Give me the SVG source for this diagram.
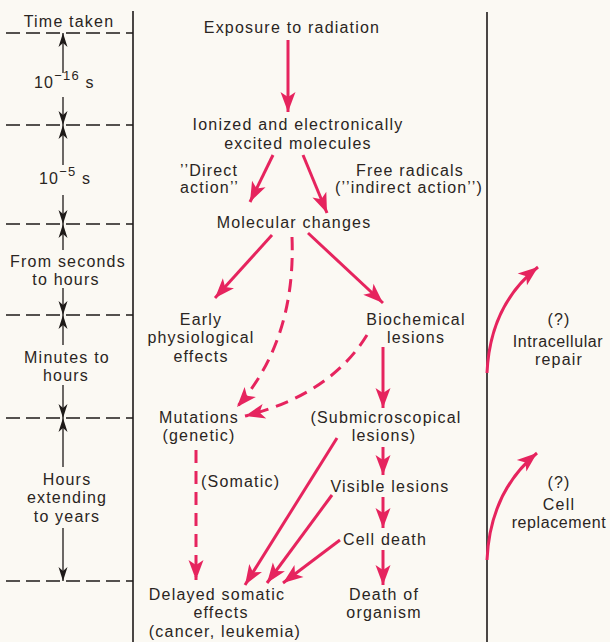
<svg xmlns="http://www.w3.org/2000/svg" width="610" height="642" viewBox="0 0 610 642">
<defs>
<marker id="rh" markerUnits="userSpaceOnUse" orient="auto" overflow="visible" markerWidth="1" markerHeight="1" refX="0" refY="0">
<path d="M0,0 L-20,-7.5 L-15,0 L-20,7.5 Z" fill="#e6245e"/>
</marker>
<marker id="bh" markerUnits="userSpaceOnUse" orient="auto" overflow="visible" markerWidth="1" markerHeight="1" refX="0" refY="0">
<path d="M0,0 L-14,-4.5 L-10,0 L-14,4.5 Z" fill="#1e1a18"/>
</marker>
</defs>
<style>
text{font-family:"Liberation Sans",Arial,sans-serif;font-size:16px;fill:#2a2522;letter-spacing:1.2px}
.m{text-anchor:middle}
.n{letter-spacing:0.6px}
.r{fill:none;stroke:#e6245e;stroke-width:3;marker-end:url(#rh)}
.rd{stroke-dasharray:13 8}
.b{fill:none;stroke:#1e1a18;stroke-width:1.3;marker-end:url(#bh)}
.dl{fill:none;stroke:#1e1a18;stroke-width:1.6;stroke-dasharray:14 6}
.v{stroke:#1e1a18;stroke-width:1.6}
</style>
<rect width="610" height="642" fill="#fbf9f3"/>
<g id="scale">
<line class="v" x1="133" y1="11" x2="133" y2="642"/>
<line class="v" x1="487" y1="12" x2="487" y2="642"/>
<line class="dl" x1="6" y1="33" x2="133" y2="33"/>
<line class="dl" x1="6" y1="125" x2="133" y2="125"/>
<line class="dl" x1="6" y1="224" x2="133" y2="224"/>
<line class="dl" x1="6" y1="315" x2="133" y2="315"/>
<line class="dl" x1="6" y1="418" x2="133" y2="418"/>
<line class="dl" x1="6" y1="581" x2="133" y2="581"/>
<text class="m" x="69" y="27">Time taken</text>
<path class="b" d="M63,73 L63,33"/>
<path class="b" d="M63,97 L63,125"/>
<text x="34" y="88">10<tspan dy="-8" font-size="13">−16</tspan><tspan dy="8"> s</tspan></text>
<path class="b" d="M63,165 L63,125"/>
<path class="b" d="M63,195 L63,224"/>
<text x="39" y="184">10<tspan dy="-8" font-size="13">−5</tspan><tspan dy="8"> s</tspan></text>
<path class="b" d="M63,250 L63,224"/>
<path class="b" d="M63,288 L63,315"/>
<text class="m" x="68" y="267">From seconds</text>
<text class="m" x="66" y="285">to hours</text>
<path class="b" d="M63,345 L63,315"/>
<path class="b" d="M63,385 L63,418"/>
<text class="m" x="67" y="363">Minutes to</text>
<text class="m" x="66" y="381">hours</text>
<path class="b" d="M63,467 L63,418"/>
<path class="b" d="M63,528 L63,581"/>
<text class="m" x="67" y="485">Hours</text>
<text class="m" x="67" y="503">extending</text>
<text class="m" x="67" y="522">to years</text>
</g>
<g id="n-exposure"><text class="m" x="292" y="33">Exposure to radiation</text></g>
<g id="n-ionized"><text class="m" x="298" y="130">Ionized and electronically</text><text class="m" x="298" y="149">excited molecules</text></g>
<g id="l-direct"><text x="180" y="176">’’Direct</text><text x="180" y="193">action’’</text></g>
<g id="l-free"><text class="m" x="410" y="176">Free radicals</text><text class="m" x="409" y="193">(’’indirect action’’)</text></g>
<g id="n-molecular"><text class="m" x="294" y="228">Molecular changes</text></g>
<g id="n-early"><text class="m" x="201" y="325">Early</text><text class="m" x="201" y="343">physiological</text><text class="m" x="201" y="362">effects</text></g>
<g id="n-biochem"><text class="m" x="416" y="325">Biochemical</text><text class="m" x="416" y="343">lesions</text></g>
<g id="n-mutations"><text class="m" x="199" y="423">Mutations</text><text class="m" x="199" y="441">(genetic)</text></g>
<g id="n-submicro"><text class="m" x="386" y="423">(Submicroscopical</text><text class="m" x="384" y="441">lesions)</text></g>
<g id="l-somatic"><text x="201" y="487">(Somatic)</text></g>
<g id="n-visible"><text class="m" x="390" y="492">Visible lesions</text></g>
<g id="n-celldeath"><text class="m" x="385" y="545">Cell death</text></g>
<g id="n-delayed"><text class="m" x="217" y="600">Delayed somatic</text><text class="m" x="221" y="618">effects</text><text class="m" x="225" y="637">(cancer, leukemia)</text></g>
<g id="n-deathorg"><text class="m" x="384" y="600">Death of</text><text class="m" x="384" y="618">organism</text></g>
<g id="n-repair"><text class="m" x="559" y="325">(?)</text><text class="m n" x="558" y="347">Intracellular</text><text class="m" x="559" y="365">repair</text></g>
<g id="n-replace"><text class="m" x="559" y="488">(?)</text><text class="m" x="559" y="510">Cell</text><text class="m n" x="559" y="528">replacement</text></g>
<g id="connectors">
<path class="r" d="M288,40 L288,112"/>
<path class="r" d="M273,155 L250,202"/>
<path class="r" d="M303,155 L327,213"/>
<path class="r" d="M272,235 L215,298"/>
<path class="r rd" d="M292,237 Q296,340 237,407"/>
<path class="r" d="M308,233 L383,303"/>
<path class="r rd" d="M367,335 Q330,395 245,416"/>
<path class="r" d="M383,347 L383,408"/>
<path class="r rd" d="M196,450 L196,580"/>
<path class="r" d="M337,438 L245,585"/>
<path class="r" d="M383,447 L383,475"/>
<path class="r" d="M332,495 L267,583"/>
<path class="r" d="M383,497 L383,528"/>
<path class="r" d="M340,540 L283,583"/>
<path class="r" d="M383,550 L383,585"/>
<path class="r" d="M487,373 Q490,305 538,267"/>
<path class="r" d="M487,560 Q490,492 537,453"/>
</g>
</svg>
